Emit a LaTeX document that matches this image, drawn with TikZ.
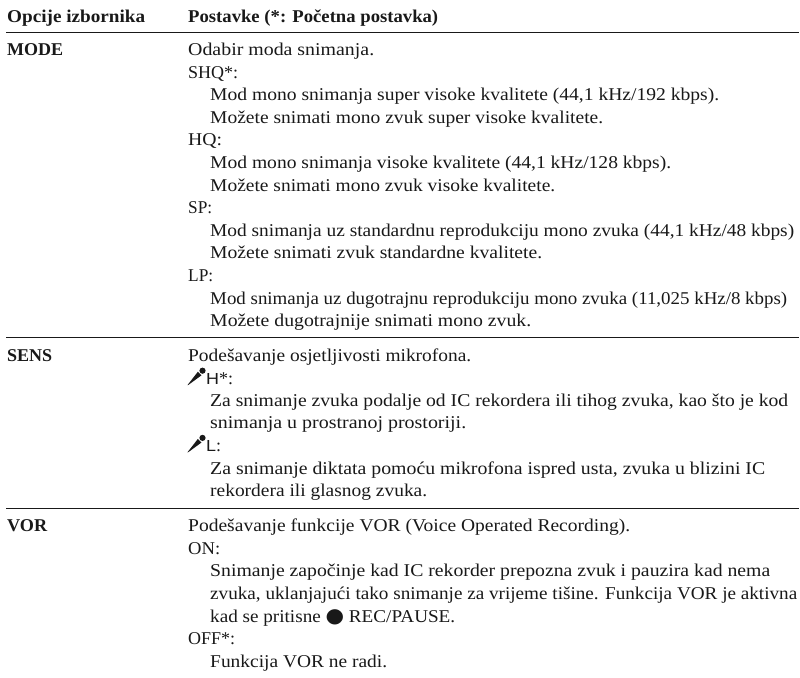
\documentclass[tikz,border=0pt]{standalone}
\usepackage{fontspec}
\usepackage{graphicx}
\setmainfont{Liberation Serif}
\newfontfamily\symfont{DejaVu Sans}
\newfontfamily\micsans{Liberation Sans}
\tikzset{
 txt/.style={anchor=base west,inner sep=0pt,font=\fontsize{18}{20}\selectfont,text=black!90},
 hd/.style={txt,font=\fontsize{18}{20}\selectfont\bfseries},
 rulel/.style={line width=1.3pt,black!90},
}
\newcommand{\mic}{\tikz[baseline=0pt,x=1pt,y=1pt]{\useasboundingbox (0,0) rectangle (18,12);\fill[black!90] (-0.8,-1.2)--(0.2,-0.9)--(13.3,8.7)--(9.7,12.3)--cycle;\fill[black!90] (14.3,13.3) circle (3.1);}}
\newcommand{\micletter}[1]{\scalebox{1.12}[1]{\micsans\fontsize{16}{20}\selectfont #1}}
% style, name, x, baseline y, right end x, text
\newcommand{\rowtext}[6]{%
 \pgfmathsetlengthmacro{\rowwd}{(#5-#3)*1pt}%
 \node[#1] (#2) at (#3,#4) {\resizebox{\rowwd}{\height}{#6}};}
\begin{document}
\begin{tikzpicture}[x=1pt,y=-1pt]
\useasboundingbox (0,0) rectangle (800,677);
\fill[white] (0,0) rectangle (800,677);
\rowtext{hd}{h1}{7}{23}{145}{Opcije izbornika}
\rowtext{hd}{h2}{188}{23}{438}{Postavke (*: Početna postavka)}
\draw[rulel] (6,32.3)--(799,32.3);
\rowtext{hd}{m}{7}{55.4}{63}{MODE}
\rowtext{txt}{a0}{188}{55.4}{374}{Odabir moda snimanja.}
\rowtext{txt}{a1}{188}{78}{238}{SHQ*:}
\rowtext{txt}{a2}{210}{100.6}{719}{Mod mono snimanja super visoke kvalitete (44,1 kHz/192 kbps).}
\rowtext{txt}{a3}{210}{123.2}{603}{Možete snimati mono zvuk super visoke kvalitete.}
\rowtext{txt}{a4}{188}{145.8}{222}{HQ:}
\rowtext{txt}{a5}{210}{168.4}{671}{Mod mono snimanja visoke kvalitete (44,1 kHz/128 kbps).}
\rowtext{txt}{a6}{210}{191}{555}{Možete snimati mono zvuk visoke kvalitete.}
\rowtext{txt}{a7}{188}{213.6}{212}{SP:}
\rowtext{txt}{a8}{210}{236.2}{794}{Mod snimanja uz standardnu reprodukciju mono zvuka (44,1 kHz/48 kbps)}
\rowtext{txt}{a9}{210}{258.8}{542}{Možete snimati zvuk standardne kvalitete.}
\rowtext{txt}{a10}{188}{281.4}{213}{LP:}
\rowtext{txt}{a11}{210}{304}{787}{Mod snimanja uz dugotrajnu reprodukciju mono zvuka (11,025 kHz/8 kbps)}
\rowtext{txt}{a12}{210}{326.6}{531}{Možete dugotrajnije snimati mono zvuk.}
\draw[rulel] (6,337.7)--(799,337.7);
\rowtext{hd}{s}{7}{361}{52}{SENS}
\rowtext{txt}{b0}{188}{361}{471}{Podešavanje osjetljivosti mikrofona.}
\node[txt] (b1) at (188,384) {\mic\micletter{H}*:};
\rowtext{txt}{b2}{210}{406}{788}{Za snimanje zvuka podalje od IC rekordera ili tihog zvuka, kao što je kod}
\rowtext{txt}{b3}{210}{428.6}{466}{snimanja u prostranoj prostoriji.}
\node[txt] (b4) at (188,451.2) {\mic\micletter{L}:};
\rowtext{txt}{b5}{210}{474}{765}{Za snimanje diktata pomoću mikrofona ispred usta, zvuka u blizini IC}
\rowtext{txt}{b6}{210}{496.6}{427}{rekordera ili glasnog zvuka.}
\draw[rulel] (6,508.3)--(799,508.3);
\rowtext{hd}{v}{7}{531.6}{47}{VOR}
\rowtext{txt}{c0}{188}{531.6}{630}{Podešavanje funkcije VOR (Voice Operated Recording).}
\rowtext{txt}{c1}{188}{554.2}{220}{ON:}
\rowtext{txt}{c2}{210}{576.8}{770}{Snimanje započinje kad IC rekorder prepozna zvuk i pauzira kad nema}
\rowtext{txt}{c3}{210}{599.4}{797}{zvuka, uklanjajući tako snimanje za vrijeme tišine. Funkcija VOR je aktivna}
\rowtext{txt}{c4}{210}{622}{455}{kad se pritisne {\symfont\fontsize{20}{20}\selectfont ●} REC/PAUSE.}
\rowtext{txt}{c5}{188}{644.6}{235}{OFF*:}
\rowtext{txt}{c6}{210}{667.2}{387}{Funkcija VOR ne radi.}
\end{tikzpicture}
\end{document}
